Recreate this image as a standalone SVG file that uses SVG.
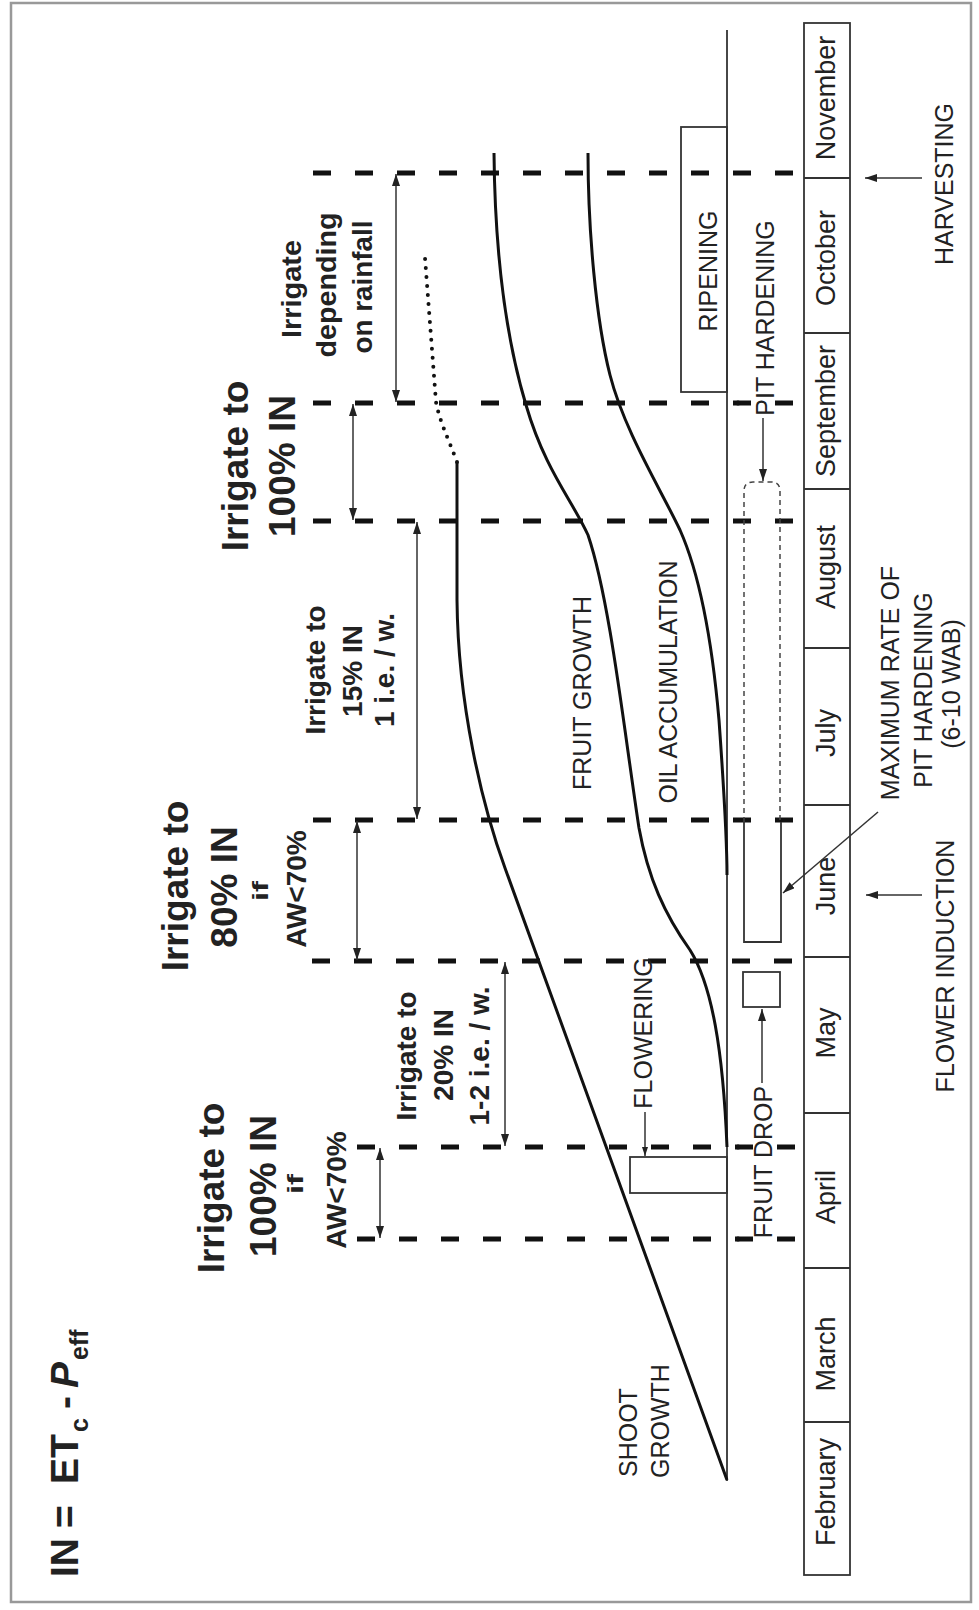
<svg xmlns="http://www.w3.org/2000/svg" width="979" height="1610" viewBox="0 0 979 1610">
<defs>
<style>
text{font-family:"Liberation Sans",Arial,sans-serif;fill:#222;}
.lbl{font-size:25px;}
.mon{font-size:27px;}
.big{font-size:37px;font-weight:bold;}
.med{font-size:28px;font-weight:bold;}
.irr{font-size:28px;font-weight:bold;}
.dash{stroke:#111;stroke-width:5;stroke-dasharray:18 24;fill:none;}
.curve{stroke:#111;stroke-width:3;fill:none;}
.thin{stroke:#333;stroke-width:1.5;fill:none;}
.box{stroke:#333;stroke-width:1.8;fill:none;}
</style>
<marker id="ah" viewBox="0 0 12 8" refX="12" refY="4" markerWidth="12" markerHeight="8" markerUnits="userSpaceOnUse" orient="auto-start-reverse">
<path d="M0,0 L12,4 L0,8 z" fill="#222"/>
</marker>
<marker id="ahs" viewBox="0 0 12 8" refX="12" refY="4" markerWidth="9" markerHeight="6" markerUnits="userSpaceOnUse" orient="auto">
<path d="M0,0 L12,4 L0,8 z" fill="#222"/>
</marker>
</defs>
<rect x="0" y="0" width="979" height="1610" fill="#fff"/>
<rect x="11" y="3" width="960" height="1599" fill="none" stroke="#999" stroke-width="2.5"/>

<g id="month-strip">
<rect x="804" y="23" width="46" height="1552" class="box"/>
<path d="M804,178H850M804,333H850M804,489H850M804,648H850M804,805H850M804,957H850M804,1113H850M804,1268H850M804,1422H850" stroke="#333" stroke-width="2.2"/>
<text class="mon" text-anchor="middle" transform="translate(835,98) rotate(-90)">November</text>
<text class="mon" text-anchor="middle" transform="translate(835,258) rotate(-90)">October</text>
<text class="mon" text-anchor="middle" transform="translate(835,411) rotate(-90)">September</text>
<text class="mon" text-anchor="middle" transform="translate(835,567) rotate(-90)">August</text>
<text class="mon" text-anchor="middle" transform="translate(835,733) rotate(-90)">July</text>
<text class="mon" text-anchor="middle" transform="translate(835,886) rotate(-90)">June</text>
<text class="mon" text-anchor="middle" transform="translate(835,1033) rotate(-90)">May</text>
<text class="mon" text-anchor="middle" transform="translate(835,1197) rotate(-90)">April</text>
<text class="mon" text-anchor="middle" transform="translate(835,1354) rotate(-90)">March</text>
<text class="mon" text-anchor="middle" transform="translate(835,1492) rotate(-90)">February</text>
</g>

<g id="axis">
<line x1="727" y1="30" x2="727" y2="1481" stroke="#333" stroke-width="1.8"/>
</g>

<g id="dashed-lines">
<line x1="313" y1="173" x2="800" y2="173" class="dash"/>
<line x1="313" y1="403" x2="800" y2="403" class="dash"/>
<line x1="313" y1="521" x2="800" y2="521" class="dash"/>
<line x1="313" y1="820" x2="800" y2="820" class="dash"/>
<line x1="312" y1="961" x2="800" y2="961" class="dash"/>
<line x1="357" y1="1147" x2="800" y2="1147" class="dash"/>
<line x1="357" y1="1239" x2="800" y2="1239" class="dash"/>
<circle cx="738" cy="403" r="2.5" fill="#111"/>
<circle cx="738" cy="1147" r="2.5" fill="#111"/>
<circle cx="738" cy="1239" r="2.5" fill="#111"/>
</g>

<g id="connectors">
<line x1="396" y1="174" x2="396" y2="402" class="thin" marker-start="url(#ah)" marker-end="url(#ah)"/>
<line x1="353" y1="404" x2="353" y2="520" class="thin" marker-start="url(#ah)" marker-end="url(#ah)"/>
<line x1="417" y1="522" x2="417" y2="819" class="thin" marker-start="url(#ah)" marker-end="url(#ah)"/>
<line x1="357" y1="821" x2="357" y2="960" class="thin" marker-start="url(#ah)" marker-end="url(#ah)"/>
<line x1="505" y1="962" x2="505" y2="1146" class="thin" marker-start="url(#ah)" marker-end="url(#ah)"/>
<line x1="380" y1="1148" x2="380" y2="1238" class="thin" marker-start="url(#ah)" marker-end="url(#ah)"/>
<line x1="922" y1="178" x2="865" y2="178" class="thin" marker-end="url(#ah)"/>
<line x1="922" y1="895" x2="866" y2="895" class="thin" marker-end="url(#ah)"/>
<line x1="763" y1="418" x2="763" y2="481" class="thin" marker-end="url(#ah)"/>
<line x1="762" y1="1083" x2="762" y2="1009" class="thin" marker-end="url(#ah)"/>
<line x1="645" y1="1112" x2="645" y2="1156" class="thin" marker-end="url(#ahs)"/>
<line x1="878" y1="812" x2="783" y2="893" class="thin" marker-end="url(#ah)"/>
</g>

<g id="shoot-growth">
<path class="curve" d="M727,1480 L505,868 C482,805 458,705 457,600 L457,462"/>
<path d="M457,462 C449,440 440,423 436,402 L425,258" fill="none" stroke="#111" stroke-width="4" stroke-linecap="round" stroke-dasharray="0 9"/>
<text class="lbl" transform="translate(637,1477) rotate(-90)">SHOOT</text>
<text class="lbl" transform="translate(669,1478) rotate(-90)">GROWTH</text>
</g>

<g id="fruit-growth">
<path class="curve" d="M494,153 C495,260 508,345 526,405 C545,470 572,500 588,535 C610,600 624,730 639,828 C648,878 665,915 690,950 C712,985 723,1050 727,1147"/>
<text class="lbl" text-anchor="middle" transform="translate(591,693) rotate(-90)">FRUIT GROWTH</text>
</g>

<g id="oil-accumulation">
<path class="curve" d="M588,153 C588,230 596,320 610,375 C624,430 660,488 680,530 C700,575 712,640 719,720 C724,790 727,840 727,875"/>
<text class="lbl" text-anchor="middle" transform="translate(677,682) rotate(-90)">OIL ACCUMULATION</text>
</g>

<g id="ripening">
<rect x="681" y="127" width="46" height="265" class="box"/>
<text class="lbl" text-anchor="middle" transform="translate(717,271) rotate(-90)">RIPENING</text>
</g>

<g id="pit-hardening">
<path d="M744,822 V491 Q744,482 753,482 H771 Q780,482 780,491 V822" fill="none" stroke="#444" stroke-width="1.5" stroke-dasharray="5 4"/>
<path d="M744,822 V942 H781 V822" class="box"/>
<text class="lbl" text-anchor="middle" transform="translate(774,318) rotate(-90)">PIT HARDENING</text>
</g>

<g id="max-rate">
<text class="lbl" text-anchor="middle" transform="translate(899,683) rotate(-90)">MAXIMUM RATE OF</text>
<text class="lbl" text-anchor="middle" transform="translate(932,690) rotate(-90)">PIT HARDENING</text>
<text class="lbl" text-anchor="middle" transform="translate(960,684) rotate(-90)">(6-10 WAB)</text>
</g>

<g id="flowering">
<rect x="630" y="1157" width="97" height="36" class="box"/>
<text class="lbl" text-anchor="middle" transform="translate(652,1033) rotate(-90)">FLOWERING</text>
</g>

<g id="fruit-drop">
<rect x="743" y="972" width="37" height="35" class="box"/>
<text class="lbl" text-anchor="middle" transform="translate(772,1162) rotate(-90)">FRUIT DROP</text>
</g>

<g id="harvesting">
<text class="lbl" text-anchor="middle" transform="translate(953,184) rotate(-90)">HARVESTING</text>
</g>

<g id="flower-induction">
<text class="lbl" text-anchor="middle" transform="translate(954,966) rotate(-90)">FLOWER INDUCTION</text>
</g>

<g id="formula">
<text transform="translate(78,1577) rotate(-90)" style="font-size:39px;font-weight:bold"><tspan x="0">IN</tspan><tspan x="49">=</tspan><tspan x="93">ET</tspan><tspan x="145" y="10" style="font-size:25px">c</tspan><tspan x="168" y="0">-</tspan><tspan x="189" style="font-style:italic">P</tspan><tspan x="217" y="10" style="font-size:25px">eff</tspan></text>
</g>

<g id="irr-rainfall">
<text class="irr" text-anchor="middle" transform="translate(301,289) rotate(-90)" textLength="98" lengthAdjust="spacingAndGlyphs">Irrigate</text>
<text class="irr" text-anchor="middle" transform="translate(336,285) rotate(-90)" textLength="145" lengthAdjust="spacingAndGlyphs">depending</text>
<text class="irr" text-anchor="middle" transform="translate(372,287) rotate(-90)" textLength="133" lengthAdjust="spacingAndGlyphs">on rainfall</text>
</g>

<g id="irr-100-top">
<text class="big" text-anchor="middle" transform="translate(248,466) rotate(-90)">Irrigate to</text>
<text class="big" text-anchor="middle" transform="translate(295,466) rotate(-90)">100% IN</text>
</g>

<g id="irr-15">
<text class="irr" text-anchor="middle" transform="translate(325,670) rotate(-90)">Irrigate to</text>
<text class="irr" text-anchor="middle" transform="translate(362,671) rotate(-90)">15% IN</text>
<text class="irr" text-anchor="middle" transform="translate(394,670) rotate(-90)">1 i.e. / w.</text>
</g>

<g id="irr-80">
<text class="big" text-anchor="middle" transform="translate(188,886) rotate(-90)">Irrigate to</text>
<text class="big" text-anchor="middle" transform="translate(237,887) rotate(-90)">80% IN</text>
<text class="med" text-anchor="middle" transform="translate(268,891) rotate(-90) scale(1.5,1)" style="font-size:22px">if</text>
<text class="med" text-anchor="middle" transform="translate(306,889) rotate(-90)">AW&lt;70%</text>
</g>

<g id="irr-20">
<text class="irr" text-anchor="middle" transform="translate(416,1056) rotate(-90)">Irrigate to</text>
<text class="irr" text-anchor="middle" transform="translate(453,1055) rotate(-90)">20% IN</text>
<text class="irr" text-anchor="middle" transform="translate(489,1056) rotate(-90)">1-2 i.e. / w.</text>
</g>

<g id="irr-100-bottom">
<text class="big" text-anchor="middle" transform="translate(224,1188) rotate(-90)">Irrigate to</text>
<text class="big" text-anchor="middle" transform="translate(276,1186) rotate(-90)">100% IN</text>
<text class="med" text-anchor="middle" transform="translate(303,1184) rotate(-90) scale(1.5,1)" style="font-size:22px">if</text>
<text class="med" text-anchor="middle" transform="translate(346,1190) rotate(-90)">AW&lt;70%</text>
</g>
</svg>
